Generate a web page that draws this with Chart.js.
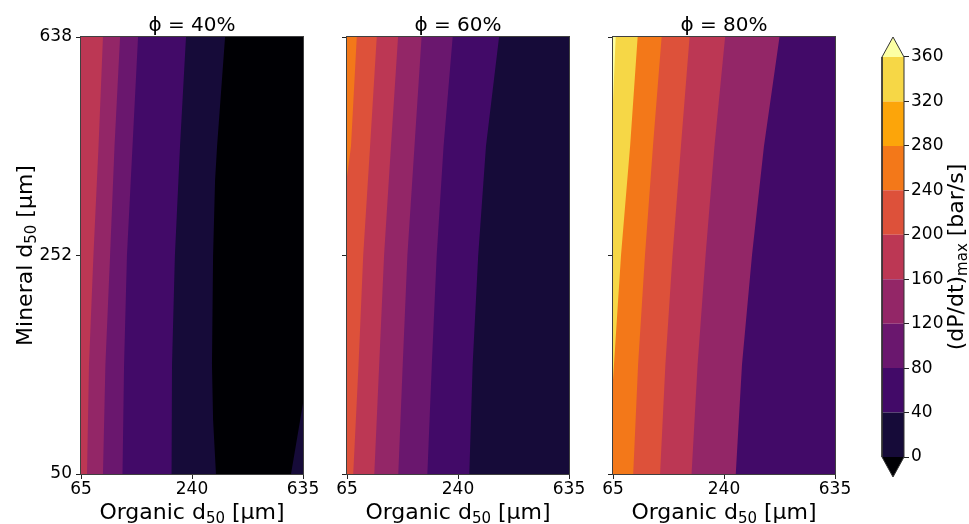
<!DOCTYPE html>
<html>
<head>
<meta charset="utf-8">
<script src="https://cdn.jsdelivr.net/npm/chart.js@4.4.0/dist/chart.umd.min.js"></script>
<style>
  html, body { margin: 0; padding: 0; background: #fff; }
  #wrap { position: relative; width: 969px; height: 524px; overflow: hidden; }
  #wrap canvas { position: absolute; left: 0; top: 0; }
</style>
</head>
<body>
<div id="wrap">
  <canvas id="p1" width="969" height="524"></canvas>
  <canvas id="p2" width="969" height="524"></canvas>
  <canvas id="p3" width="969" height="524"></canvas>
  <canvas id="cb" width="969" height="524"></canvas>
</div>
<script>
// axes run over the grid index (0 = first, 1 = last grid point)
var tickSpots = [0, 0.5, 1];
var xTickLabels = ["65", "240", "635"];
var yTickLabels = ["50", "252", "638"];
var panelTitles = ["ϕ = 40%", "ϕ = 60%", "ϕ = 80%"];
// axis titles as [text, subscript, text]
var xTitleParts = ["Organic d", "50", " [μm]"];
var yTitleParts = ["Mineral d", "50", " [μm]"];
var cbTitleParts = ["(dP/dt)", "max", " [bar/s]"];

// colour scale (dP/dt)max, bar/s
var cbLevels = [0, 40, 80, 120, 160, 200, 240, 280, 320, 360];
var bandColors = ["#160b39", "#420a68", "#6a176e", "#932667", "#bc3754",
                  "#dd513a", "#f37819", "#fca50a", "#f6d746"];
var underColor = "#000004";
var overColor = "#fcffa4";

// contour lines as [x, y] grid fractions, lowest level first.
// "left" = values above the level lie to the left of the line
var phi40Base = -40;
var phi40Levels = [0, 0, 40, 80, 120, 160];
var phi40Sides = ["left", "right", "left", "left", "left", "left"];
var phi40Lines = [
  [[0.608, 0], [0.595, 0.124], [0.590, 0.25], [0.595, 0.5], [0.604, 0.673], [0.613, 0.75], [0.649, 1]],
  [[0.946, 0], [1, 0.162]],
  [[0.408, 0], [0.410, 0.25], [0.423, 0.5], [0.446, 0.75], [0.473, 1]],
  [[0.187, 0], [0.194, 0.25], [0.207, 0.5], [0.232, 0.75], [0.257, 1]],
  [[0.099, 0], [0.110, 0.25], [0.131, 0.5], [0.151, 0.75], [0.176, 1]],
  [[0.027, 0], [0.036, 0.25], [0.056, 0.5], [0.079, 0.75], [0.099, 1]]
];

var phi60Base = 0;
var phi60Levels = [40, 80, 120, 160, 200, 240];
var phi60Sides = ["left", "left", "left", "left", "left", "left"];
var phi60Lines = [
  [[0.551, 0], [0.566, 0.25], [0.591, 0.5], [0.626, 0.75], [0.685, 1]],
  [[0.362, 0], [0.382, 0.25], [0.404, 0.5], [0.435, 0.75], [0.476, 1]],
  [[0.231, 0], [0.251, 0.25], [0.272, 0.5], [0.304, 0.75], [0.336, 1]],
  [[0.123, 0], [0.145, 0.25], [0.167, 0.5], [0.198, 0.75], [0.230, 1]],
  [[0.028, 0], [0.052, 0.25], [0.073, 0.5], [0.104, 0.75], [0.134, 1]],
  [[0, 0.68], [0.018, 0.75], [0.044, 1]]
];

var phi80Base = 40;
var phi80Levels = [120, 160, 200, 240, 320, 360];
var phi80Sides = ["left", "left", "left", "left", "left", "left"];
var phi80Lines = [
  [[0.553, 0], [0.581, 0.25], [0.626, 0.5], [0.680, 0.75], [0.750, 1]],
  [[0.354, 0], [0.381, 0.25], [0.417, 0.5], [0.457, 0.75], [0.505, 1]],
  [[0.212, 0], [0.236, 0.25], [0.268, 0.5], [0.306, 0.75], [0.345, 1]],
  [[0.091, 0], [0.113, 0.25], [0.144, 0.5], [0.180, 0.75], [0.219, 1]],
  [[0, 0.215], [0.036, 0.5], [0.077, 0.75], [0.111, 1]],
  [[0, 0.85], [0.012, 1]]
];

Chart.defaults.font.family = "'DejaVu Sans', sans-serif";
Chart.defaults.color = "#000";

function colorFor(level) {
  if (level < cbLevels[0]) return underColor;
  if (level >= cbLevels[cbLevels.length - 1]) return overColor;
  return bandColors[Math.floor((level - cbLevels[0]) / 40)];
}

// polygon closed against the left or right edge of the grid
function bandPolygon(line, side) {
  var edge = side === "left" ? 0 : 1;
  var pts = line.map(function (p) { return { x: p[0], y: p[1] }; });
  pts.push({ x: edge, y: line[line.length - 1][1] });
  pts.push({ x: edge, y: line[0][1] });
  return pts;
}

function shapeSet(pts, color) {
  return {
    data: pts,
    fill: "shape",
    backgroundColor: color,
    borderColor: "rgba(0,0,0,0)",
    borderWidth: 0,
    pointRadius: 0,
    tension: 0
  };
}

// text with a lowered, smaller middle part (like d50 / (dP/dt)max)
function drawSubText(ctx, parts, cx, base, rotated) {
  var big = "22px 'DejaVu Sans'";
  var small = "15px 'DejaVu Sans'";
  ctx.save();
  ctx.font = big;
  var w0 = ctx.measureText(parts[0]).width;
  var w2 = ctx.measureText(parts[2]).width;
  ctx.font = small;
  var w1 = ctx.measureText(parts[1]).width;
  var total = w0 + w1 + w2;
  if (rotated) {
    ctx.translate(base, cx);
    ctx.rotate(-Math.PI / 2);
  } else {
    ctx.translate(cx, base);
  }
  ctx.fillStyle = "#000";
  ctx.textAlign = "left";
  ctx.textBaseline = "alphabetic";
  var x = -total / 2;
  ctx.font = big;
  ctx.fillText(parts[0], x, 0);
  ctx.font = small;
  ctx.fillText(parts[1], x + w0, 3.5);
  ctx.font = big;
  ctx.fillText(parts[2], x + w0 + w1, 0);
  ctx.restore();
}

var frame = {
  id: "frame",
  beforeDatasetsDraw: function (chart, args, opts) {
    var a = chart.chartArea;
    var ctx = chart.ctx;
    ctx.save();
    ctx.fillStyle = opts.fill;
    ctx.fillRect(a.left, a.top, a.right - a.left, a.bottom - a.top);
    ctx.restore();
  },
  afterDatasetsDraw: function (chart) {
    var a = chart.chartArea;
    var ctx = chart.ctx;
    ctx.save();
    ctx.strokeStyle = "#404040";
    ctx.lineWidth = 1;
    ctx.strokeRect(a.left - 0.5, a.top - 0.5, a.right - a.left + 1, a.bottom - a.top + 1);
    ctx.restore();
  },
  afterDraw: function (chart, args, opts) {
    var a = chart.chartArea;
    drawSubText(chart.ctx, xTitleParts, (a.left + a.right) / 2, 519, false);
    if (opts.yTitle) {
      drawSubText(chart.ctx, yTitleParts, (a.top + a.bottom) / 2, 32, true);
    }
  }
};

function makePanel(id, title, base, levels, sides, lines, left, showY) {
  var right = left + 222;
  var yW = showY ? 76 : 8;
  var sets = [];
  for (var i = 0; i < lines.length; i++) {
    sets.push(shapeSet(bandPolygon(lines[i], sides[i]), colorFor(levels[i])));
  }
  sets.reverse(); // chart.js paints the first dataset last

  return new Chart(document.getElementById(id), {
    type: "line",
    data: { datasets: sets },
    plugins: [frame],
    options: {
      responsive: false,
      animation: false,
      events: [],
      layout: { padding: { left: left - yW, right: 969 - right, top: 0, bottom: 0 } },
      plugins: {
        legend: { display: false },
        tooltip: { enabled: false },
        frame: { fill: colorFor(base), yTitle: showY },
        title: {
          display: true,
          fullSize: false,
          text: title,
          color: "#000",
          font: { size: 20, weight: "normal", lineHeight: 1 },
          padding: { top: 16, bottom: 1 }
        }
      },
      scales: {
        x: {
          type: "linear",
          min: 0,
          max: 1,
          afterBuildTicks: function (s) { s.ticks = tickSpots.map(function (v) { return { value: v }; }); },
          afterFit: function (s) { s.height = 50; },
          ticks: {
            callback: function (v, i) { return xTickLabels[i]; },
            font: { size: 17 },
            color: "#000",
            padding: 0,
            maxRotation: 0,
            autoSkip: false
          },
          grid: { drawOnChartArea: false, drawTicks: true, tickLength: 5, tickColor: "#222" },
          border: { display: false }
        },
        y: {
          type: "linear",
          min: 0,
          max: 1,
          afterBuildTicks: function (s) { s.ticks = tickSpots.map(function (v) { return { value: v }; }); },
          afterFit: function (s) { s.width = yW; },
          ticks: {
            display: showY,
            callback: function (v, i) { return yTickLabels[i]; },
            font: { size: 17 },
            color: "#000",
            padding: 4
          },
          grid: { drawOnChartArea: false, drawTicks: true, tickLength: 5, tickColor: "#222" },
          border: { display: false }
        }
      }
    }
  });
}

makePanel("p1", panelTitles[0], phi40Base, phi40Levels, phi40Sides, phi40Lines, 81, true);
makePanel("p2", panelTitles[1], phi60Base, phi60Levels, phi60Sides, phi60Lines, 347, false);
makePanel("p3", panelTitles[2], phi80Base, phi80Levels, phi80Sides, phi80Lines, 613, false);

// colour bar with triangular extensions at both ends
var cbLo = cbLevels[0];
var cbHi = cbLevels[cbLevels.length - 1];
var cbExt = 0.05 * (cbHi - cbLo);
var cbSets = [];
for (var i = 0; i < cbLevels.length - 1; i++) {
  cbSets.push(shapeSet([
    { x: 0, y: cbLevels[i] }, { x: 1, y: cbLevels[i] },
    { x: 1, y: cbLevels[i + 1] }, { x: 0, y: cbLevels[i + 1] }
  ], bandColors[i]));
}
cbSets.push(shapeSet([{ x: 0, y: cbLo }, { x: 0.5, y: cbLo - cbExt }, { x: 1, y: cbLo }], underColor));
cbSets.push(shapeSet([{ x: 0, y: cbHi }, { x: 0.5, y: cbHi + cbExt }, { x: 1, y: cbHi }], overColor));
cbSets.unshift({
  data: [
    { x: 0, y: cbLo }, { x: 0.5, y: cbLo - cbExt }, { x: 1, y: cbLo },
    { x: 1, y: cbHi }, { x: 0.5, y: cbHi + cbExt }, { x: 0, y: cbHi }, { x: 0, y: cbLo }
  ],
  fill: false,
  borderColor: "#333",
  borderWidth: 1,
  pointRadius: 0,
  tension: 0,
  clip: 3
});

var cbLabel = {
  id: "cbLabel",
  afterDraw: function (chart) {
    var a = chart.chartArea;
    drawSubText(chart.ctx, cbTitleParts, (a.top + a.bottom) / 2, 963, true);
  }
};

new Chart(document.getElementById("cb"), {
  type: "line",
  data: { datasets: cbSets },
  plugins: [cbLabel],
  options: {
    responsive: false,
    animation: false,
    events: [],
    layout: { padding: { left: 882, right: 969 - 904 - 50, top: 37, bottom: 47 } },
    plugins: { legend: { display: false }, tooltip: { enabled: false } },
    scales: {
      x: { type: "linear", min: 0, max: 1, display: false },
      y: {
        type: "linear",
        position: "right",
        min: cbLo - cbExt,
        max: cbHi + cbExt,
        afterBuildTicks: function (s) { s.ticks = cbLevels.map(function (v) { return { value: v }; }); },
        afterFit: function (s) { s.width = 50; },
        ticks: { font: { size: 17 }, color: "#000", padding: 2 },
        grid: { drawOnChartArea: false, drawTicks: true, tickLength: 5, tickColor: "#222" },
        border: { display: false }
      }
    }
  }
});
</script>
</body>
</html>
